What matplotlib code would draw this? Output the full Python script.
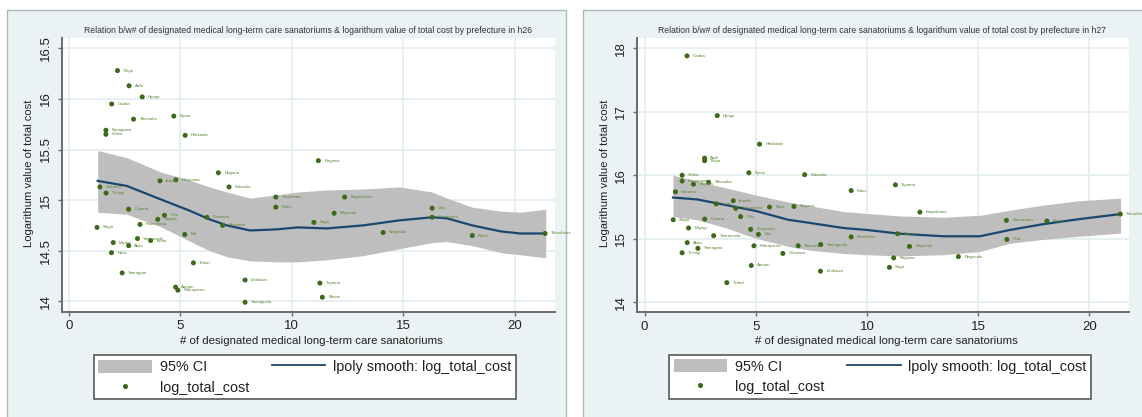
import matplotlib
matplotlib.use("Agg")
import matplotlib.pyplot as plt
from matplotlib.patches import Rectangle, Patch
from matplotlib.lines import Line2D

plt.rcParams["font.family"] = ["Liberation Sans", "DejaVu Sans"]

# ---------------- data ----------------
names26 = ['Tokyo', 'Aichi', 'Hyogo', 'Osaka', 'Shizuoka', 'Kyoto', 'Kanagawa', 'Chiba',
           'Hokkaido', 'Kagawa', 'Nagano', 'Ibaraki', 'Okayama', 'Fukuoka', 'Saitama',
           'Tochigi', 'Hiroshima', 'Kagoshima', 'Fukui', 'Oita', 'Gunma', 'Miyazaki', 'Gifu',
           'Niigata', 'Kumamoto', 'Okinawa', 'Saga', 'Fukushima', 'Shimane', 'Shiga',
           'Nagasaki', 'Tokushima', 'Mie', 'Kochi', 'Yamanashi', 'Iwate', 'Akita', 'Miyagi',
           'Nara', 'Tottori', 'Yamagata', 'Ishikawa', 'Toyama', 'Aomori', 'Wakayama', 'Ehime',
           'Yamaguchi']
n26 = [2.17, 2.69, 3.28, 1.91, 2.89, 4.70, 1.65, 1.65, 5.21, 11.19, 6.70, 4.08, 4.79, 7.18,
       1.38, 1.66, 9.28, 12.37, 9.28, 16.30, 2.67, 11.90, 4.28, 3.98, 16.30, 6.19, 10.99,
       3.18, 6.89, 1.25, 14.10, 21.37, 5.19, 18.10, 3.07, 3.66, 2.67, 1.98, 1.90, 5.58, 2.38,
       7.90, 11.26, 4.78, 4.88, 11.37, 7.90]
cost26 = [16.28, 16.13, 16.02, 15.95, 15.80, 15.83, 15.69, 15.65, 15.64, 15.39, 15.27, 15.19,
          15.20, 15.13, 15.13, 15.07, 15.03, 15.03, 14.93, 14.92, 14.91, 14.87, 14.85, 14.81,
          14.83, 14.83, 14.78, 14.76, 14.75, 14.73, 14.68, 14.67, 14.66, 14.65, 14.62, 14.60,
          14.55, 14.58, 14.48, 14.38, 14.28, 14.21, 14.18, 14.14, 14.11, 14.04, 13.99]

smooth_x26 = [1.28, 2.59, 4.08, 5.36, 6.30, 7.08, 8.12, 9.28, 10.26, 11.57, 13.20, 14.84,
              16.30, 16.96, 18.10, 19.40, 20.25, 21.40]
smooth26 = [15.19, 15.14, 15.01, 14.90, 14.81, 14.75, 14.70, 14.71, 14.73, 14.72, 14.75,
            14.80, 14.83, 14.82, 14.75, 14.69, 14.67, 14.67]
ci_hi26 = [15.49, 15.42, 15.28, 15.20, 15.13, 15.08, 15.02, 15.05, 15.08, 15.10, 15.11,
           15.13, 15.08, 15.02, 14.93, 14.89, 14.88, 14.91]
ci_lo26 = [14.88, 14.86, 14.74, 14.60, 14.50, 14.44, 14.40, 14.39, 14.39, 14.41, 14.45,
           14.52, 14.58, 14.59, 14.55, 14.48, 14.46, 14.43]

names27 = ['Osaka', 'Hyogo', 'Hokkaido', 'Aichi', 'Tokyo', 'Kyoto', 'Fukuoka', 'Chiba',
           'Kanagawa', 'Niigata', 'Shizuoka', 'Fukui', 'Toyama', 'Saitama', 'Iwate', 'Ibaraki',
           'Fukushima', 'Nara', 'Nagano', 'Kagoshima', 'Tokushima', 'Shiga', 'Gunma', 'Gifu',
           'Kumamoto', 'Kochi', 'Miyagi', 'Okayama', 'Mie', 'Yamanashi', 'Hiroshima', 'Ehime',
           'Oita', 'Akita', 'Yamaguchi', 'Wakayama', 'Shimane', 'Miyazaki', 'Yamagata',
           'Tochigi', 'Okinawa', 'Nagasaki', 'Kagawa', 'Aomori', 'Saga', 'Ishikawa', 'Tottori']
n27 = [1.91, 3.27, 5.17, 2.70, 2.70, 4.69, 7.20, 1.69, 1.69, 2.20, 2.88, 9.29, 11.28, 1.39,
       3.22, 3.99, 4.10, 5.62, 6.72, 12.38, 21.39, 1.29, 2.71, 4.32, 16.27, 18.09, 1.98, 4.77,
       5.12, 3.11, 9.29, 11.38, 16.29, 1.92, 7.92, 4.92, 6.91, 11.91, 2.40, 1.69, 6.22, 14.11,
       11.20, 4.80, 11.01, 7.91, 3.70]
cost27 = [17.88, 16.94, 16.49, 16.27, 16.23, 16.04, 16.01, 16.00, 15.91, 15.86, 15.89, 15.76,
          15.85, 15.74, 15.55, 15.60, 15.48, 15.50, 15.51, 15.42, 15.39, 15.30, 15.31, 15.35,
          15.29, 15.28, 15.17, 15.15, 15.07, 15.05, 15.03, 15.08, 14.99, 14.94, 14.91, 14.89,
          14.89, 14.88, 14.85, 14.78, 14.77, 14.72, 14.70, 14.58, 14.55, 14.49, 14.31]

smooth_x27 = [1.28, 2.37, 3.68, 4.99, 6.46, 7.44, 8.94, 9.99, 11.49, 13.44, 15.08, 16.43,
              17.91, 19.54, 21.40]
smooth27 = [15.65, 15.62, 15.53, 15.44, 15.30, 15.25, 15.17, 15.14, 15.08, 15.04, 15.04,
            15.14, 15.23, 15.31, 15.39]
ci_hi27 = [16.00, 15.91, 15.80, 15.69, 15.58, 15.52, 15.43, 15.40, 15.36, 15.34, 15.37,
           15.45, 15.53, 15.60, 15.64]
ci_lo27 = [15.35, 15.30, 15.17, 15.01, 14.88, 14.82, 14.77, 14.75, 14.73, 14.75, 14.80,
           14.93, 14.99, 15.04, 15.09]

xticks = [0, 5, 10, 15, 20]
yticks26 = [14, 14.5, 15, 15.5, 16, 16.5]
ytick_labels26 = ['14', '14.5', '15', '15.5', '16', '16.5']
yticks27 = [14, 15, 16, 17, 18]
ytick_labels27 = ['14', '15', '16', '17', '18']

title_fmt = ("Relation b/w# of designated medical long-term care sanatoriums & "
             "logarithum value of total cost by prefecture in {}")
xlabel = "# of designated medical long-term care sanatoriums"
ylabel = "Logarithum value of total cost"
legend_labels = ["95% CI", "log_total_cost", "lpoly smooth: log_total_cost"]

# ---------------- styling ----------------
W, H = 1142, 417
PANEL_BG = "#EAF2F3"
PANEL_EDGE = "#AEB8BA"
GRID = "#E4EEF0"
GREEN = "#3B6A18"
LABEL_GREEN = "#5C8533"
NAVY = "#1A476F"
CI_GRAY = "#BEBEBE"
AXIS = "#6A6A6A"
TEXT = "#222222"

fig = plt.figure(figsize=(W / 100, H / 100), dpi=100)
fig.patch.set_facecolor("white")


def px_box(l, t, r, b):
    return [l / W, 1 - b / H, (r - l) / W, (b - t) / H]


def fit_width(txt, target, vertical=False):
    r = fig.canvas.get_renderer()
    bb = txt.get_window_extent(r)
    size = bb.height if vertical else bb.width
    txt.set_fontsize(txt.get_fontsize() * target / size)


panels = [
    dict(frame=(6.5, 10, 566, 425), axes=(61.8, 38.3, 555.3, 312.0),
         xlim=(-0.33, 21.83), ylim=(13.894, 16.599),
         names=names26, x=n26, y=cost26,
         sx=smooth_x26, s=smooth26, hi=ci_hi26, lo=ci_lo26,
         yticks=yticks26, ylabels=ytick_labels26, tag="h26",
         title_c=308.5, leg=(93.8, 355.0), xlab_c=311.0, ylab_x=29.0),
    dict(frame=(582.7, 10, 1150, 425), axes=(636.5, 38.3, 1129.0, 312.3),
         xlim=(-0.36, 21.78), ylim=(13.843, 18.157),
         names=names27, x=n27, y=cost27,
         sx=smooth_x27, s=smooth27, hi=ci_hi27, lo=ci_lo27,
         yticks=yticks27, ylabels=ytick_labels27, tag="h27",
         title_c=881.5, leg=(668.9, 354.5), xlab_c=886.4, ylab_x=604.5),
]

for p in panels:
    fl, ft, fr, fb = p["frame"]
    fig.patches.append(Rectangle((fl / W, 1 - fb / H), (fr - fl) / W, (fb - ft) / H,
                                 transform=fig.transFigure, facecolor=PANEL_BG,
                                 edgecolor=PANEL_EDGE, linewidth=1.0, zorder=-5))

    l, t, r, b = p["axes"]
    ax = fig.add_axes(px_box(l, t, r, b))
    ax.set_facecolor("white")
    ax.set_xlim(*p["xlim"])
    ax.set_ylim(*p["ylim"])

    ax.fill_between(p["sx"], p["lo"], p["hi"], color=CI_GRAY, lw=0, zorder=1)
    ax.plot(p["sx"], p["s"], color=NAVY, lw=1.6, zorder=2, solid_joinstyle="round")
    ax.scatter(p["x"], p["y"], s=13, color=GREEN, edgecolors="none", zorder=3)
    for name, xv, yv in zip(p["names"], p["x"], p["y"]):
        ax.annotate(name, (xv, yv), xytext=(4.2, 0), textcoords="offset points",
                    fontsize=3.2, color=LABEL_GREEN, va="center", ha="left",
                    annotation_clip=False, zorder=4)

    ax.set_xticks(xticks)
    ax.set_yticks(p["yticks"])
    ax.set_yticklabels(p["ylabels"])
    ax.grid(True, color=GRID, lw=1.3, zorder=0)
    ax.set_axisbelow(True)
    for side in ("top", "right"):
        ax.spines[side].set_visible(False)
    for side in ("left", "bottom"):
        ax.spines[side].set_color(AXIS)
        ax.spines[side].set_linewidth(1.4)
    ax.tick_params(axis="both", direction="out", length=3.0, width=1.0, color=AXIS,
                   labelsize=9.5, labelcolor=TEXT, pad=3)
    ax.tick_params(axis="y", labelrotation=90, pad=4)
    for lbl in ax.get_yticklabels():
        lbl.set_va("center")

    ax.set_xlabel(xlabel, color=TEXT, fontsize=7.5)
    ax.xaxis.set_label_coords((p["xlab_c"] - l) / (r - l), (b - 340.7) / (b - t))
    ax.xaxis.label.set_va("center")
    fit_width(ax.xaxis.label, 262)

    ax.set_ylabel(ylabel, color=TEXT, fontsize=7.5)
    ax.yaxis.set_label_coords((p["ylab_x"] - l) / (r - l), (b - 173.5) / (b - t))
    ax.yaxis.label.set_va("center")
    fit_width(ax.yaxis.label, 147, vertical=True)

    ttl = fig.text(p["title_c"] / W, 1 - 30.7 / H, title_fmt.format(p["tag"]),
                   ha="center", va="center", color="#333333", fontsize=5.5)
    fit_width(ttl, 445)

    lx0, ly0 = p["leg"]
    handles = [Patch(facecolor=CI_GRAY, edgecolor="none"),
               Line2D([], [], ls="", marker="o", markersize=2.6, color=GREEN),
               Line2D([], [], color=NAVY, lw=1.3)]
    leg = ax.legend(handles, legend_labels, ncol=2, loc="upper left",
                    bbox_to_anchor=(lx0 / W, 1 - ly0 / H),
                    bbox_transform=fig.transFigure, fontsize=10.4, frameon=True,
                    fancybox=False, edgecolor="#4A4A4A", facecolor="white", framealpha=1,
                    handlelength=3.7, handleheight=1.0, handletextpad=0.55,
                    labelspacing=0.42, borderpad=0.32, borderaxespad=0,
                    columnspacing=1.58)
    leg.get_frame().set_linewidth(1.1)
    for txt in leg.get_texts():
        txt.set_color(TEXT)

fig.savefig("out.png", dpi=100, facecolor=fig.get_facecolor())
